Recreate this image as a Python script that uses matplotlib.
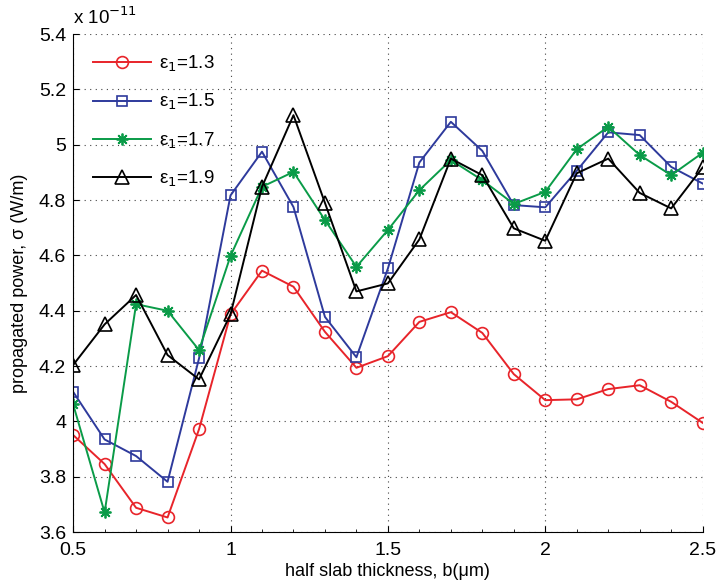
import matplotlib
matplotlib.use('Agg')
import matplotlib.pyplot as plt
from matplotlib.ticker import MultipleLocator

# half slab thickness b (um)
b = [0.5, 0.6, 0.7, 0.8, 0.9, 1.0, 1.1, 1.2, 1.3, 1.4, 1.5,
     1.6, 1.7, 1.8, 1.9, 2.0, 2.1, 2.2, 2.3, 2.4, 2.5]

# propagated power, units of 1e-11 W/m
p_13 = [3.951, 3.846, 3.688, 3.653, 3.972, 4.387, 4.545, 4.487, 4.324, 4.194, 4.236,
        4.360, 4.395, 4.320, 4.171, 4.077, 4.080, 4.117, 4.131, 4.071, 3.995]
p_15 = [4.107, 3.935, 3.875, 3.782, 4.228, 4.817, 4.975, 4.775, 4.378, 4.232, 4.553,
        4.936, 5.083, 4.978, 4.782, 4.774, 4.906, 5.045, 5.035, 4.920, 4.860]
p_17 = [4.062, 3.671, 4.424, 4.400, 4.258, 4.598, 4.848, 4.902, 4.728, 4.559, 4.692,
        4.836, 4.945, 4.872, 4.786, 4.830, 4.984, 5.065, 4.963, 4.890, 4.971]
p_19 = [4.204, 4.351, 4.457, 4.240, 4.152, 4.387, 4.848, 5.107, 4.790, 4.470, 4.499,
        4.658, 4.950, 4.890, 4.698, 4.653, 4.897, 4.950, 4.826, 4.770, 4.918]

labels = ['ε$_1$=1.3', 'ε$_1$=1.5', 'ε$_1$=1.7', 'ε$_1$=1.9']

plt.rcParams['font.family'] = ['Liberation Sans', 'DejaVu Sans']

fig = plt.figure(figsize=(7.17, 5.88), dpi=100)
ax = fig.add_axes([0.102, 0.095, 0.878, 0.847])

ms = 8.5
lw = 1.4
ax.plot(b, p_13, color='#e8242a', marker='o', ms=ms, mfc='none', mew=1.2, lw=lw, label=labels[0])
ax.plot(b, p_15, color='#2e3a9c', marker='s', ms=ms - 1, mfc='none', mew=1.2, lw=lw, label=labels[1])
ax.plot(b, p_17, color='#0a9b48', marker=(8, 2, 0), ms=ms, mew=1.3, lw=lw, label=labels[2])
ax.plot(b, p_19, color='black', marker='^', ms=ms + 1, mfc='none', mew=1.2, lw=lw, label=labels[3])

ax.set_xlim(0.5, 2.5)
ax.set_ylim(3.6, 5.4)
ax.xaxis.set_major_locator(MultipleLocator(0.5))
ax.xaxis.set_minor_locator(MultipleLocator(0.1))
ax.yaxis.set_major_locator(MultipleLocator(0.2))
ax.xaxis.set_major_formatter(plt.FuncFormatter(lambda v, p: f'{v:g}'))
ax.yaxis.set_major_formatter(plt.FuncFormatter(lambda v, p: f'{v:g}'))
ax.tick_params(which='both', direction='in', labelsize=14)
ax.tick_params(axis='x', which='major', length=4.5, pad=7)
ax.tick_params(axis='x', which='minor', length=2.5)
ax.tick_params(axis='y', which='major', length=4.5, pad=5)
ax.grid(True, which='major', linestyle=(0, (1, 4)), color='#444444', lw=0.8)

for s in ['top', 'right']:
    ax.spines[s].set_visible(False)

ax.set_xlabel('half slab thickness, b(μm)', fontsize=13, labelpad=3)
ax.set_ylabel('propagated power, σ (W/m)', fontsize=13, labelpad=8)
ax.text(0.0, 1.012, 'x 10$^{-11}$', transform=ax.transAxes, fontsize=13.5, ha='left', va='bottom')

ax.legend(loc='upper left', frameon=False, fontsize=13.5, handlelength=3.1,
          handletextpad=0.4, borderaxespad=0.0, labelspacing=0.95,
          bbox_to_anchor=(0.02, 0.975))

plt.savefig('out.png', dpi=100)
plt.close()
